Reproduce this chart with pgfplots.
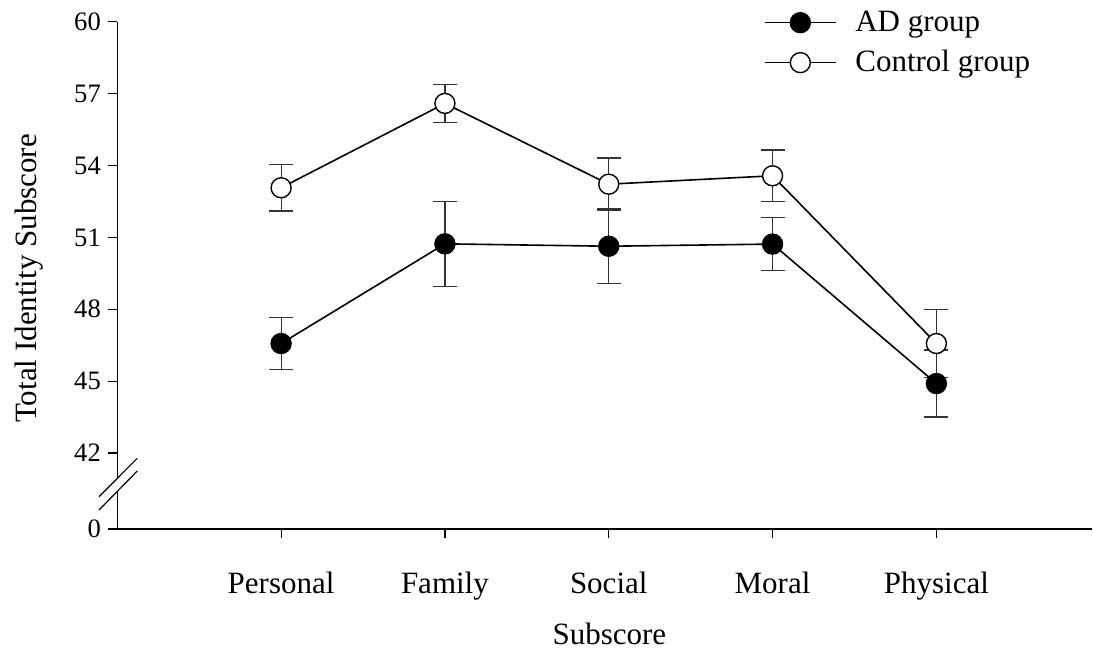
\documentclass[border=0pt]{standalone}
\usepackage{fontspec}
\setmainfont{Liberation Serif}
\usepackage{pgfplots}
\pgfplotsset{compat=1.18}

% display scale: 0 sits at 38.83 (broken axis), values >= 42 are plotted as read
\begin{document}
\begin{tikzpicture}
\begin{axis}[
    at={(0pt,0pt)}, anchor=south west,
    scale only axis,
    width=487.35pt, height=253.65pt,
    xmin=0, xmax=5.95,
    ymin=38.83, ymax=60,
    clip=false,
    axis x line*=bottom, axis y line*=left,
    axis line style={line width=0.7pt},
    xtick={1,2,3,4,5},
    xticklabels={Personal,Family,Social,Moral,Physical},
    ytick={38.83,42,45,48,51,54,57,60},
    yticklabels={0,42,45,48,51,54,57,60},
    tick align=outside,
    major tick length=4.7pt,
    tick style={line width=0.6pt, black},
    /pgf/number format/assume math mode=true,
    x tick label style={font=\fontsize{15.5}{18}\selectfont, anchor=base, yshift=-27.5pt},
    y tick label style={font=\fontsize{13.3}{16}\selectfont},
    xlabel={Subscore}, ylabel={Total Identity Subscore},
    label style={font=\fontsize{15.5}{18}\selectfont},
    xlabel style={at={(axis description cs:0.5048,0)}, anchor=base, yshift=-57.5pt},
    ylabel style={at={(axis description cs:-0.0827,0.494)}, anchor=base},
    reverse legend,
    legend style={at={(axis description cs:0.6628,1.022)}, anchor=north west,
        draw=none, fill=none, inner sep=0pt, row sep=8pt,
        font=\fontsize{15.5}{18}\selectfont, nodes={inner sep=0pt}, cells={anchor=west}},
    legend image code/.code={
        \draw[mark repeat=2,mark phase=2] plot coordinates {(0pt,0pt) (17.9pt,0pt) (35.85pt,0pt)};
        \path (45pt,0pt);
    },
]
% Control group
\addplot[black, line width=0.8pt, mark=*, mark size=5pt,
    mark options={fill=white, draw=black, line width=0.7pt},
    error bars/.cd, y dir=both, y explicit,
    error bar style={line width=0.6pt, black!80},
    error mark options={rotate=90, mark size=6pt, line width=0.6pt, black!80}]
coordinates {
    (1,53.07) +- (0,0.97)
    (2,56.59) +- (0,0.79)
    (3,53.22) +- (0,1.09)
    (4,53.57) +- (0,1.08)
    (5,46.57) +- (0,1.43)
};
\addlegendentry{Control group}
% AD group
\addplot[black, line width=0.8pt, mark=*, mark size=5pt,
    mark options={fill=black, draw=black, line width=0.7pt},
    error bars/.cd, y dir=both, y explicit,
    error bar style={line width=0.6pt, black!80},
    error mark options={rotate=90, mark size=6pt, line width=0.6pt, black!80}]
coordinates {
    (1,46.57) +- (0,1.10)
    (2,50.73) +- (0,1.77)
    (3,50.63) +- (0,1.55)
    (4,50.72) +- (0,1.11)
    (5,44.90) +- (0,1.40)
};
\addlegendentry{AD group}
\end{axis}
% axis break marks
\fill[white] (-9.15pt,16.15pt) -- (10pt,35.35pt) -- (10pt,29pt) -- (-9.15pt,9.5pt) -- cycle;
\draw[line width=0.6pt] (-9.15pt,16.15pt) -- (10pt,35.35pt);
\draw[line width=0.6pt] (-9.15pt,9.5pt) -- (10pt,29pt);
\pgfresetboundingbox
\useasboundingbox (-58.65pt,-60.5pt) rectangle (487.85pt,264.5pt);
\end{tikzpicture}
\end{document}
